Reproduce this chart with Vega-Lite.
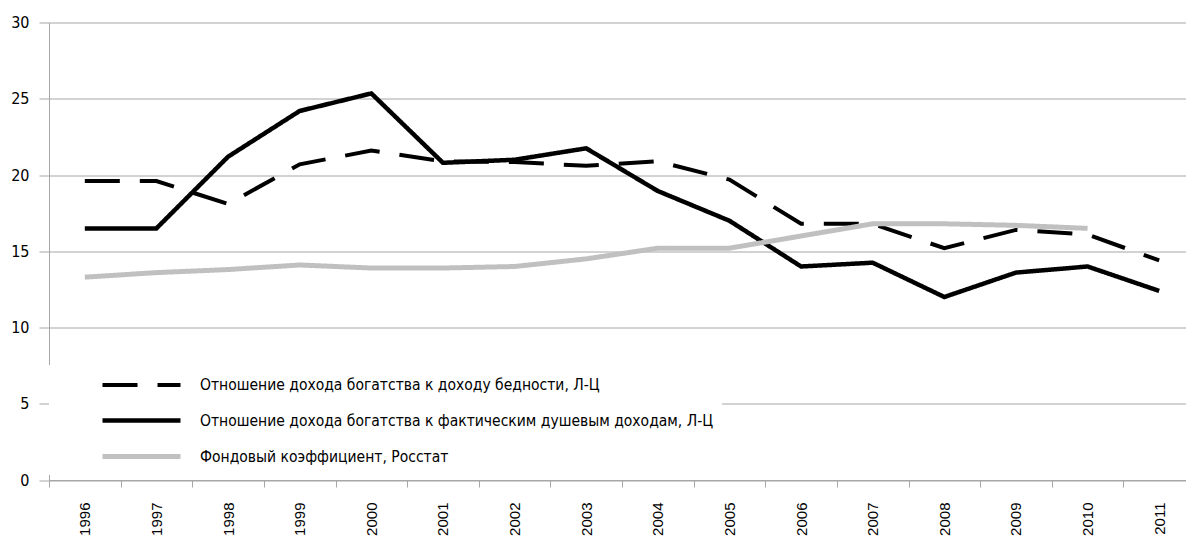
{
  "$schema": "https://vega.github.io/schema/vega-lite/v6.json",
  "width": 1137,
  "height": 457.5,
  "autosize": "none",
  "padding": {"left": 49, "top": 22.5, "right": 0, "bottom": 57},
  "background": "white",
  "config": {"view": {"stroke": null}},
  "data": {
    "values": [
      {"year": "1996", "series": "Отношение дохода богатства к доходу бедности, Л-Ц", "value": 19.6},
      {"year": "1997", "series": "Отношение дохода богатства к доходу бедности, Л-Ц", "value": 19.6},
      {"year": "1998", "series": "Отношение дохода богатства к доходу бедности, Л-Ц", "value": 18.1},
      {"year": "1999", "series": "Отношение дохода богатства к доходу бедности, Л-Ц", "value": 20.7},
      {"year": "2000", "series": "Отношение дохода богатства к доходу бедности, Л-Ц", "value": 21.6},
      {"year": "2001", "series": "Отношение дохода богатства к доходу бедности, Л-Ц", "value": 20.9},
      {"year": "2002", "series": "Отношение дохода богатства к доходу бедности, Л-Ц", "value": 20.85},
      {"year": "2003", "series": "Отношение дохода богатства к доходу бедности, Л-Ц", "value": 20.6},
      {"year": "2004", "series": "Отношение дохода богатства к доходу бедности, Л-Ц", "value": 20.9},
      {"year": "2005", "series": "Отношение дохода богатства к доходу бедности, Л-Ц", "value": 19.7},
      {"year": "2006", "series": "Отношение дохода богатства к доходу бедности, Л-Ц", "value": 16.8},
      {"year": "2007", "series": "Отношение дохода богатства к доходу бедности, Л-Ц", "value": 16.8},
      {"year": "2008", "series": "Отношение дохода богатства к доходу бедности, Л-Ц", "value": 15.2},
      {"year": "2009", "series": "Отношение дохода богатства к доходу бедности, Л-Ц", "value": 16.4},
      {"year": "2010", "series": "Отношение дохода богатства к доходу бедности, Л-Ц", "value": 16.1},
      {"year": "2011", "series": "Отношение дохода богатства к доходу бедности, Л-Ц", "value": 14.4},
      {"year": "1996", "series": "Отношение дохода богатства к фактическим душевым доходам, Л-Ц", "value": 16.5},
      {"year": "1997", "series": "Отношение дохода богатства к фактическим душевым доходам, Л-Ц", "value": 16.5},
      {"year": "1998", "series": "Отношение дохода богатства к фактическим душевым доходам, Л-Ц", "value": 21.2},
      {"year": "1999", "series": "Отношение дохода богатства к фактическим душевым доходам, Л-Ц", "value": 24.2},
      {"year": "2000", "series": "Отношение дохода богатства к фактическим душевым доходам, Л-Ц", "value": 25.35},
      {"year": "2001", "series": "Отношение дохода богатства к фактическим душевым доходам, Л-Ц", "value": 20.8},
      {"year": "2002", "series": "Отношение дохода богатства к фактическим душевым доходам, Л-Ц", "value": 21.0},
      {"year": "2003", "series": "Отношение дохода богатства к фактическим душевым доходам, Л-Ц", "value": 21.75},
      {"year": "2004", "series": "Отношение дохода богатства к фактическим душевым доходам, Л-Ц", "value": 18.95},
      {"year": "2005", "series": "Отношение дохода богатства к фактическим душевым доходам, Л-Ц", "value": 17.0},
      {"year": "2006", "series": "Отношение дохода богатства к фактическим душевым доходам, Л-Ц", "value": 14.0},
      {"year": "2007", "series": "Отношение дохода богатства к фактическим душевым доходам, Л-Ц", "value": 14.25},
      {"year": "2008", "series": "Отношение дохода богатства к фактическим душевым доходам, Л-Ц", "value": 12.0},
      {"year": "2009", "series": "Отношение дохода богатства к фактическим душевым доходам, Л-Ц", "value": 13.6},
      {"year": "2010", "series": "Отношение дохода богатства к фактическим душевым доходам, Л-Ц", "value": 14.0},
      {"year": "2011", "series": "Отношение дохода богатства к фактическим душевым доходам, Л-Ц", "value": 12.4},
      {"year": "1996", "series": "Фондовый коэффициент, Росстат", "value": 13.3},
      {"year": "1997", "series": "Фондовый коэффициент, Росстат", "value": 13.6},
      {"year": "1998", "series": "Фондовый коэффициент, Росстат", "value": 13.8},
      {"year": "1999", "series": "Фондовый коэффициент, Росстат", "value": 14.1},
      {"year": "2000", "series": "Фондовый коэффициент, Росстат", "value": 13.9},
      {"year": "2001", "series": "Фондовый коэффициент, Росстат", "value": 13.9},
      {"year": "2002", "series": "Фондовый коэффициент, Росстат", "value": 14.0},
      {"year": "2003", "series": "Фондовый коэффициент, Росстат", "value": 14.5},
      {"year": "2004", "series": "Фондовый коэффициент, Росстат", "value": 15.2},
      {"year": "2005", "series": "Фондовый коэффициент, Росстат", "value": 15.2},
      {"year": "2006", "series": "Фондовый коэффициент, Росстат", "value": 16.0},
      {"year": "2007", "series": "Фондовый коэффициент, Росстат", "value": 16.8},
      {"year": "2008", "series": "Фондовый коэффициент, Росстат", "value": 16.8},
      {"year": "2009", "series": "Фондовый коэффициент, Росстат", "value": 16.7},
      {"year": "2010", "series": "Фондовый коэффициент, Росстат", "value": 16.5}
    ]
  },
  "mark": {"type": "line", "strokeJoin": "miter", "strokeCap": "butt"},
  "encoding": {
    "x": {
      "field": "year",
      "type": "ordinal",
      "bandPosition": 0.5,
      "scale": {"type": "band", "range": [0, 1146], "paddingInner": 0, "paddingOuter": 0},
      "axis": {
        "title": null,
        "tickBand": "extent",
        "labelAngle": -90,
        "labelAlign": "right",
        "labelBaseline": "middle",
        "labelFont": "Liberation Sans",
        "labelFontSize": 15,
        "labelColor": "#000000",
        "labelPadding": 15,
        "labelOverlap": false,
        "tickSize": 7,
        "tickColor": "#a6a6a6",
        "domainColor": "#a6a6a6",
        "grid": false
      }
    },
    "y": {
      "field": "value",
      "type": "quantitative",
      "scale": {"domain": [0, 30], "nice": false, "zero": true},
      "axis": {
        "title": null,
        "values": [0, 5, 10, 15, 20, 25, 30],
        "labelFont": "DejaVu Sans Condensed",
        "labelFontSize": 16,
        "labelColor": "#000000",
        "labelPadding": 10,
        "tickSize": 10,
        "tickColor": "#a6a6a6",
        "domainColor": "#a6a6a6",
        "gridColor": "#a6a6a6",
        "gridOpacity": 1,
        "grid": true
      }
    },
    "color": {
      "field": "series",
      "type": "nominal",
      "scale": {
        "domain": ["Отношение дохода богатства к доходу бедности, Л-Ц", "Отношение дохода богатства к фактическим душевым доходам, Л-Ц", "Фондовый коэффициент, Росстат"],
        "range": ["#000000", "#000000", "#c0c0c0"]
      },
      "legend": {
        "title": null,
        "orient": "none",
        "legendX": 0,
        "legendY": 342.5,
        "symbolType": "M-3.9,0H3.9",
        "symbolSize": 400,
        "symbolStrokeWidth": 5,
        "symbolOffset": 72,
        "labelOffset": 46,
        "labelFont": "DejaVu Sans Condensed",
        "labelFontSize": 15.5,
        "labelColor": "#000000",
        "labelLimit": 1000,
        "fillColor": "white",
        "padding": 8,
        "rowPadding": 14
      }
    },
    "strokeDash": {
      "field": "series",
      "type": "nominal",
      "scale": {
        "domain": ["Отношение дохода богатства к доходу бедности, Л-Ц", "Отношение дохода богатства к фактическим душевым доходам, Л-Ц", "Фондовый коэффициент, Росстат"],
        "range": [[35, 20], [1, 0], [1, 0]]
      },
      "legend": {
        "title": null,
        "orient": "none",
        "legendX": 0,
        "legendY": 342.5,
        "symbolType": "M-3.9,0H3.9",
        "symbolSize": 400,
        "symbolStrokeWidth": 5,
        "symbolOffset": 72,
        "labelOffset": 46,
        "labelFont": "DejaVu Sans Condensed",
        "labelFontSize": 15.5,
        "labelColor": "#000000",
        "labelLimit": 1000,
        "fillColor": "white",
        "padding": 8,
        "rowPadding": 14
      }
    },
    "strokeWidth": {
      "field": "series",
      "type": "nominal",
      "scale": {
        "domain": ["Отношение дохода богатства к доходу бедности, Л-Ц", "Отношение дохода богатства к фактическим душевым доходам, Л-Ц", "Фондовый коэффициент, Росстат"],
        "range": [4, 5, 4.5]
      },
      "legend": null
    }
  }
}
